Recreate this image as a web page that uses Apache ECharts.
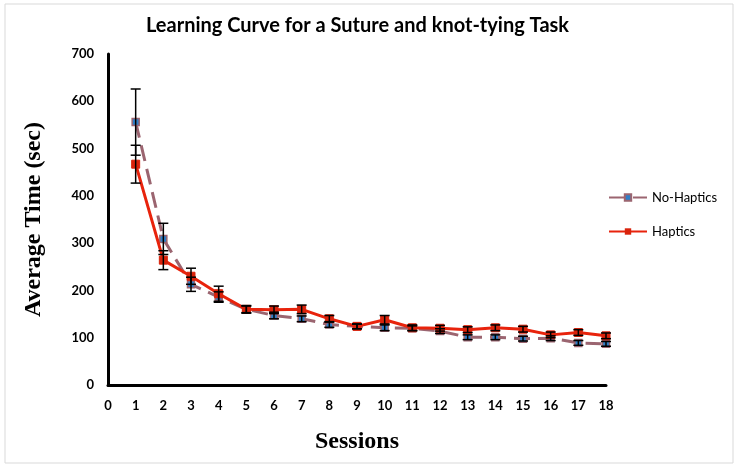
<!DOCTYPE html>
<html><head><meta charset="utf-8">
<script src="https://cdn.jsdelivr.net/npm/echarts@6/dist/echarts.min.js"></script>
<style>html,body{margin:0;padding:0;background:#fff}#c{width:739px;height:468px}</style>
</head><body><div id="c"></div>
<script>
const sessions = [1,2,3,4,5,6,7,8,9,10,11,12,13,14,15,16,17,18];
const noHaptics = [556,309,213,186,160,147,140,128,124,121,120,114,101,101,98,99,89,87];
const noHapticsErr = [70,33,15,11,7,7,6,6,5,6,5,5,5,5,5,5,5,5];
const haptics = [467,264,230,193,160,159,160,140,124,138,121,120,117,121,118,106,111,104];
const hapticsErr = [40,20,17,16,8,8,9,7,5,9,6,6,6,6,6,6,6,6];
const yTicks = [0,100,200,300,400,500,600,700];

function pairs(ys){ return sessions.map((s,i)=>[s, ys[i]]); }
function errData(ys, es){ return sessions.map((s,i)=>[s, ys[i]-es[i], ys[i]+es[i]]); }
function errRender(params, api){
  const x = api.value(0);
  const lo = api.coord([x, api.value(1)]);
  const hi = api.coord([x, api.value(2)]);
  const w = 5;
  const st = {stroke:'#000', lineWidth:1.5};
  return {type:'group', children:[
    {type:'line', shape:{x1:lo[0],y1:lo[1],x2:hi[0],y2:hi[1]}, style:st},
    {type:'line', shape:{x1:lo[0]-w,y1:lo[1],x2:lo[0]+w,y2:lo[1]}, style:st},
    {type:'line', shape:{x1:hi[0]-w,y1:hi[1],x2:hi[0]+w,y2:hi[1]}, style:st}
  ]};
}

const chart = echarts.init(document.getElementById('c'), null, {renderer:'canvas'});
chart.setOption({
  backgroundColor:'#fff',
  animation:false,
  graphic:[{type:'rect', shape:{x:5,y:4,width:728,height:459}, style:{fill:'none', stroke:'#d9d9d9', lineWidth:1}, z:-1}],
  title:{text:'Learning Curve for a Suture and knot-tying Task', left:141, top:11,
    textStyle:{fontFamily:'Lato', fontWeight:'bold', fontSize:20, color:'#000'}},
  legend:{orient:'vertical', left:603, top:186, itemGap:21, itemWidth:38, itemHeight:8,
    textStyle:{fontFamily:'Lato', fontSize:13, color:'#000'},
    data:['No-Haptics','Haptics']},
  grid:{left:108, right:133, top:54, bottom:83},
  xAxis:{type:'value', min:0, max:18, interval:1,
    name:'Sessions', nameLocation:'middle', nameGap:45,
    nameTextStyle:{fontFamily:'Liberation Serif', fontWeight:'bold', fontSize:24, color:'#000'},
    axisLine:{lineStyle:{color:'#000', width:3}}, axisTick:{show:false}, splitLine:{show:false},
    axisLabel:{fontFamily:'Lato', fontWeight:'bold', fontSize:13, color:'#000', margin:14}},
  yAxis:{type:'value', min:yTicks[0], max:yTicks[yTicks.length-1], interval:100,
    name:'Average Time (sec)', nameLocation:'middle', nameGap:62,
    nameTextStyle:{fontFamily:'Liberation Serif', fontWeight:'bold', fontSize:24, color:'#000'},
    axisLine:{show:true, lineStyle:{color:'#000', width:3}}, axisTick:{show:false}, splitLine:{show:false},
    axisLabel:{fontFamily:'Lato', fontWeight:'bold', fontSize:13, color:'#000', margin:14}},
  series:[
    {name:'No-Haptics', type:'line', data:pairs(noHaptics), symbol:'rect', symbolSize:7,
      lineStyle:{color:'#9b6570', width:3, type:[16,8]},
      itemStyle:{color:'#2f7fc8', borderColor:'#9b6570', borderWidth:1.5}, z:3},
    {name:'Haptics', type:'line', data:pairs(haptics), symbol:'rect', symbolSize:8,
      lineStyle:{color:'#e8230c', width:3},
      itemStyle:{color:'#d9230c', borderColor:'#d9230c'}, z:4},
    {name:'errNo', type:'custom', renderItem:errRender, data:errData(noHaptics,noHapticsErr), z:5, encode:{x:0,y:[1,2]}},
    {name:'errH', type:'custom', renderItem:errRender, data:errData(haptics,hapticsErr), z:5, encode:{x:0,y:[1,2]}}
  ]
});
</script></body></html>
